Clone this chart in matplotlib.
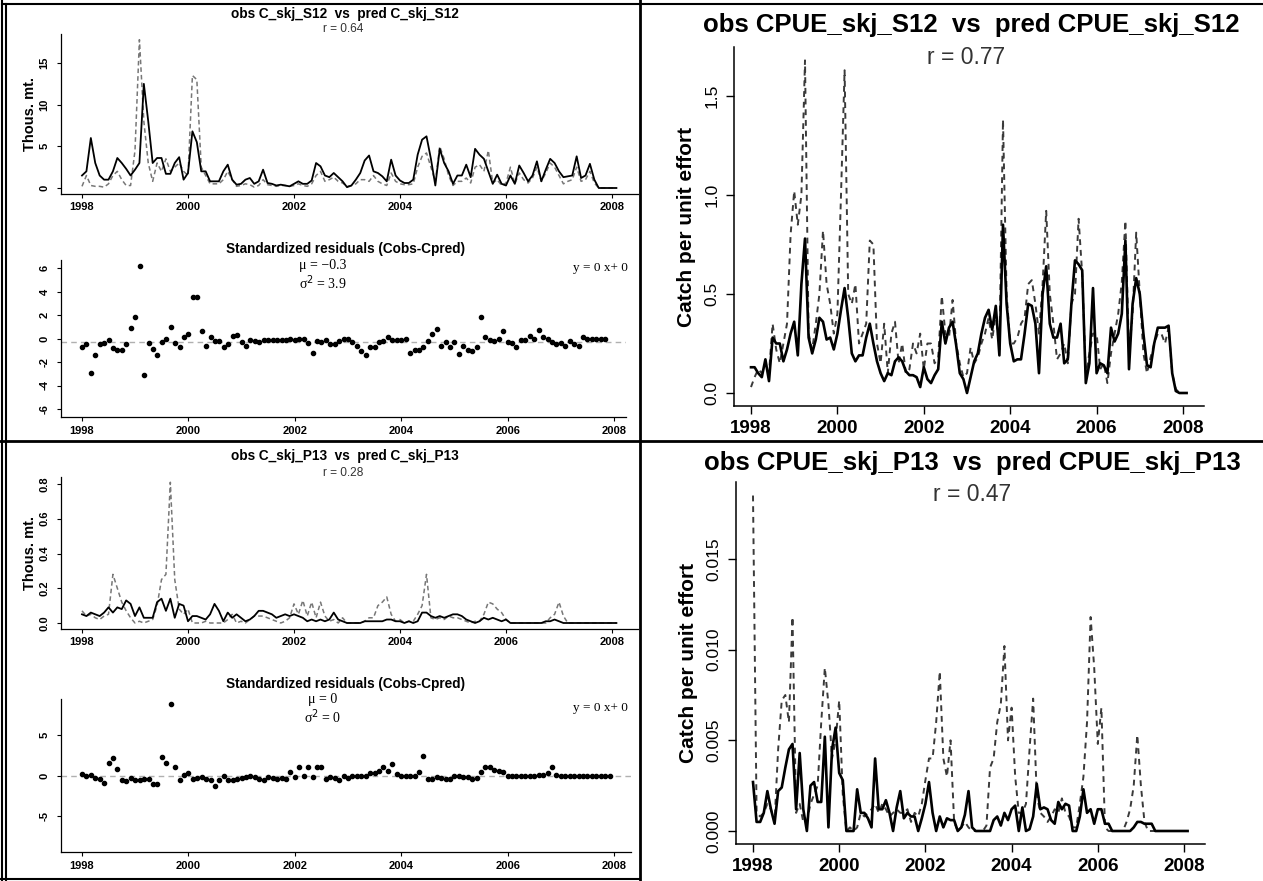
import numpy as np
import matplotlib
matplotlib.use("Agg")
import matplotlib.pyplot as plt
from matplotlib.lines import Line2D

plt.rcParams['font.family'] = ['Liberation Sans', 'DejaVu Sans']

W, H = 1263, 881

# ---------------- data (monthly, starting Jan 1998) ----------------
obs_c_s12 = [1.5, 2.0, 6.0, 3.0, 1.5, 1.0, 1.0, 2.0, 3.6, 3.0, 2.3, 1.5,
             2.2, 3.0, 12.5, 8.0, 3.0, 3.6, 3.6, 1.7, 1.7, 3.0, 3.7, 1.0,
             1.8, 6.8, 5.5, 2.0, 2.0, 0.8, 0.8, 0.8, 2.0, 2.8, 1.0, 0.4,
             0.5, 1.0, 1.2, 0.5, 0.8, 2.2, 0.6, 0.5, 0.3, 0.4, 0.3, 0.2,
             0.5, 0.8, 0.5, 0.5, 0.9, 3.0, 2.6, 1.5, 1.3, 1.8, 1.3, 0.8,
             0.1, 0.3, 1.0, 1.8, 3.3, 3.9, 2.0, 1.8, 1.4, 0.8, 3.4, 1.5,
             0.9, 0.6, 0.6, 1.0, 4.0, 5.8, 6.2, 3.5, 0.3, 4.7, 3.0, 2.0,
             0.5, 1.5, 1.5, 2.8, 1.3, 4.7, 4.0, 3.5, 2.0, 0.5, 1.6, 0.5,
             0.3, 1.5, 0.5, 2.7, 1.8, 0.8, 1.5, 3.2, 0.8, 2.2, 3.5, 3.0,
             2.0, 1.3, 1.4, 1.5, 3.8, 1.2, 1.5, 2.9, 1.0, 0.0, 0.0, 0.0,
             0.0, 0.0]
pred_c_s12 = [0.2, 1.5, 0.3, 0.2, 0.2, 0.1, 0.5, 1.5, 2.0, 1.0, 0.3, 0.3,
              4.5, 17.8, 8.0, 3.0, 0.8, 3.0, 2.0, 3.5, 2.0, 2.5, 3.0, 2.0,
              1.5, 13.5, 13.0, 2.5, 1.5, 0.5, 0.5, 0.5, 1.0, 2.0, 1.0, 0.2,
              0.3, 0.5, 0.4, 0.1, 0.3, 1.0, 0.4, 0.3, 0.2, 0.3, 0.3, 0.2,
              0.3, 0.5, 0.3, 0.2, 0.5, 1.5, 2.0, 0.8, 1.0, 1.3, 0.8, 0.6,
              0.2, 0.3, 0.5, 1.0, 1.0, 0.8, 1.5, 0.8, 0.5, 0.3, 1.8, 0.8,
              0.5, 0.4, 0.4, 0.5, 2.5, 3.8, 4.2, 2.5, 0.8, 5.0, 3.5, 1.5,
              0.3, 0.8, 0.8, 1.2, 0.6, 2.5, 2.8, 2.0, 4.5, 0.6, 1.0, 0.3,
              0.6, 2.5, 0.5, 1.8, 1.0, 0.6, 1.2, 2.5, 0.8, 1.8, 3.0, 2.5,
              1.5, 0.5, 0.8, 1.0, 2.5, 0.8, 1.0, 2.0, 0.6, 0.0, 0.0, 0.0,
              0.0, 0.0]
resid_c_s12 = [-0.7, -0.5, -2.9, -1.4, -0.5, -0.4, -0.1, -0.8, -1.0, -1.0, -0.5, 0.9,
               1.8, 6.2, -3.1, -0.4, -0.9, -1.4, -0.3, 0.0, 1.0, -0.4, -0.7, 0.1,
               0.4, 3.5, 3.5, 0.6, -0.6, 0.1, -0.2, -0.2, -0.7, -0.5, 0.2, 0.3,
               -0.3, -0.6, -0.1, -0.2, -0.3, -0.1, -0.1, -0.1, -0.1, -0.1, -0.1, 0.0,
               -0.1, 0.0, 0.0, -0.4, -1.2, -0.2, -0.3, -0.1, -0.5, -0.5, -0.2, 0.0,
               0.0, -0.3, -0.6, -1.1, -1.4, -0.7, -0.7, -0.3, -0.2, 0.1, -0.1, -0.1,
               -0.1, 0.0, -1.2, -1.0, -1.0, -0.7, -0.2, 0.4, 0.8, -0.6, -0.3, -0.7,
               -0.3, -1.3, -0.6, -1.0, -1.1, -0.7, 1.8, 0.1, -0.1, -0.2, 0.0, 0.6,
               -0.3, -0.4, -0.7, -0.1, -0.1, 0.2, 0.0, 0.7, 0.1, 0.0, -0.3, -0.5,
               -0.4, -0.6, -0.2, -0.5, -0.6, 0.1, 0.0, 0.0, 0.0, 0.0, 0.0]

obs_cpue_s12 = [0.13, 0.13, 0.10, 0.08, 0.17, 0.06, 0.28, 0.25, 0.25, 0.16, 0.22, 0.30,
                0.36, 0.19, 0.55, 0.78, 0.28, 0.20, 0.27, 0.38, 0.36, 0.27, 0.28, 0.22,
                0.30, 0.42, 0.53, 0.38, 0.20, 0.16, 0.19, 0.19, 0.28, 0.35, 0.25, 0.16,
                0.10, 0.06, 0.10, 0.09, 0.16, 0.18, 0.16, 0.11, 0.09, 0.09, 0.08, 0.03,
                0.13, 0.07, 0.05, 0.09, 0.12, 0.36, 0.25, 0.33, 0.36, 0.24, 0.10, 0.07,
                0.00, 0.08, 0.16, 0.20, 0.30, 0.38, 0.42, 0.32, 0.44, 0.19, 0.85, 0.45,
                0.25, 0.16, 0.17, 0.17, 0.30, 0.45, 0.44, 0.35, 0.10, 0.50, 0.64, 0.35,
                0.28, 0.28, 0.35, 0.15, 0.17, 0.45, 0.67, 0.65, 0.62, 0.05, 0.15, 0.53,
                0.10, 0.15, 0.14, 0.10, 0.33, 0.26, 0.30, 0.40, 0.77, 0.12, 0.45, 0.58,
                0.50, 0.30, 0.14, 0.13, 0.25, 0.33, 0.33, 0.33, 0.34, 0.10, 0.01, 0.00,
                0.00, 0.00]
pred_cpue_s12 = [0.03, 0.08, 0.12, 0.10, 0.15, 0.10, 0.35, 0.22, 0.15, 0.25, 0.35, 0.80,
                 1.02, 0.85, 1.00, 1.68, 0.30, 0.22, 0.35, 0.50, 0.82, 0.55, 0.45, 0.30,
                 0.40, 1.00, 1.63, 0.50, 0.45, 0.55, 0.25, 0.30, 0.35, 0.77, 0.75, 0.25,
                 0.15, 0.35, 0.10, 0.30, 0.36, 0.15, 0.25, 0.10, 0.12, 0.25, 0.20, 0.30,
                 0.12, 0.25, 0.25, 0.15, 0.18, 0.49, 0.30, 0.28, 0.47, 0.25, 0.15, 0.08,
                 0.10, 0.23, 0.15, 0.18, 0.25, 0.30, 0.38, 0.27, 0.40, 0.22, 1.38, 0.50,
                 0.25, 0.25, 0.28, 0.35, 0.38, 0.55, 0.57, 0.45, 0.30, 0.55, 0.92, 0.50,
                 0.35, 0.17, 0.20, 0.25, 0.15, 0.45, 0.50, 0.88, 0.60, 0.10, 0.20, 0.30,
                 0.30, 0.12, 0.15, 0.05, 0.20, 0.30, 0.40, 0.56, 0.87, 0.20, 0.40, 0.81,
                 0.50, 0.20, 0.10, 0.18, 0.25, 0.30, 0.30, 0.25, 0.33, 0.10, 0.02, 0.00,
                 0.00, 0.00]

obs_c_p13 = [0.05, 0.04, 0.06, 0.05, 0.04, 0.06, 0.09, 0.06, 0.09, 0.08, 0.13, 0.11,
             0.04, 0.09, 0.03, 0.03, 0.03, 0.12, 0.14, 0.07, 0.14, 0.03, 0.11, 0.10,
             0.01, 0.04, 0.04, 0.03, 0.02, 0.05, 0.11, 0.07, 0.01, 0.06, 0.03, 0.05,
             0.03, 0.01, 0.02, 0.04, 0.07, 0.07, 0.06, 0.05, 0.03, 0.04, 0.05, 0.04,
             0.05, 0.04, 0.03, 0.01, 0.02, 0.01, 0.02, 0.01, 0.02, 0.06, 0.02, 0.01,
             0.00, 0.00, 0.00, 0.00, 0.01, 0.01, 0.01, 0.01, 0.01, 0.02, 0.02, 0.01,
             0.01, 0.00, 0.01, 0.00, 0.01, 0.06, 0.06, 0.04, 0.03, 0.04, 0.03, 0.04,
             0.05, 0.05, 0.04, 0.02, 0.01, 0.00, 0.01, 0.03, 0.02, 0.03, 0.02, 0.01,
             0.02, 0.00, 0.00, 0.00, 0.00, 0.00, 0.00, 0.00, 0.00, 0.01, 0.01, 0.02,
             0.01, 0.00, 0.00, 0.00, 0.00, 0.00, 0.00, 0.00, 0.00, 0.00, 0.00, 0.00,
             0.00, 0.00]
pred_c_p13 = [0.07, 0.04, 0.05, 0.03, 0.02, 0.04, 0.05, 0.28, 0.20, 0.12, 0.07, 0.03,
              0.00, 0.01, 0.00, 0.01, 0.02, 0.10, 0.25, 0.28, 0.81, 0.25, 0.08, 0.05,
              0.08, 0.00, 0.00, 0.00, 0.01, 0.00, 0.00, 0.00, 0.00, 0.02, 0.05, 0.00,
              0.01, 0.00, 0.02, 0.04, 0.04, 0.04, 0.03, 0.02, 0.01, 0.00, 0.01, 0.03,
              0.11, 0.05, 0.13, 0.04, 0.12, 0.03, 0.12, 0.04, 0.01, 0.02, 0.00, 0.03,
              0.00, 0.00, 0.00, 0.00, 0.01, 0.03, 0.03, 0.10, 0.12, 0.15, 0.05, 0.01,
              0.02, 0.00, 0.01, 0.01, 0.05, 0.10, 0.28, 0.03, 0.02, 0.03, 0.02, 0.04,
              0.03, 0.03, 0.02, 0.01, 0.00, 0.01, 0.01, 0.05, 0.12, 0.11, 0.08, 0.06,
              0.02, 0.00, 0.00, 0.00, 0.00, 0.00, 0.00, 0.00, 0.00, 0.00, 0.03, 0.05,
              0.12, 0.04, 0.00, 0.00, 0.00, 0.00, 0.00, 0.00, 0.00, 0.00, 0.00, 0.00,
              0.00, 0.00]
resid_c_p13 = [0.2, -0.1, 0.1, -0.3, -0.4, -0.9, 1.5, 2.1, 0.8, -0.6, -0.7, -0.3,
               -0.6, -0.5, -0.4, -0.4, -1.0, -1.0, 2.3, 1.5, 8.8, 1.1, -0.6, 0.1,
               0.3, -0.4, -0.3, -0.2, -0.4, -0.6, -1.3, -0.6, -0.1, -0.5, -0.5, -0.4,
               -0.3, -0.2, -0.1, -0.2, -0.4, -0.6, -0.2, -0.3, -0.4, -0.3, -0.4, 0.4,
               -0.2, 1.0, 0.0, 1.1, -0.2, 1.0, 1.0, -0.4, -0.2, -0.3, -0.6, -0.1,
               -0.3, -0.1, 0.0, 0.0, 0.0, 0.3, 0.3, 0.5, 1.1, 0.5, 1.4, 0.2,
               -0.1, 0.0, -0.1, 0.0, 0.4, 2.4, -0.4, -0.4, -0.2, -0.3, -0.4, -0.4,
               -0.1, -0.1, -0.2, -0.2, -0.4, -0.3, 0.4, 1.1, 1.1, 0.7, 0.6, 0.4,
               0.0, 0.0, 0.0, 0.0, 0.0, 0.0, 0.0, 0.1, 0.1, 0.3, 1.1, 0.1,
               0.0, 0.0, 0.0, 0.0, 0.0, 0.0, 0.0, 0.0, 0.0, 0.0, 0.0, 0.0]

obs_cpue_p13 = [0.0027, 0.0005, 0.0005, 0.0010, 0.0022, 0.0012, 0.0004, 0.0022, 0.0024, 0.0035, 0.0045, 0.0048,
                0.0012, 0.0043, 0.0012, 0.0000, 0.0025, 0.0027, 0.0016, 0.0016, 0.0052, 0.0002, 0.0045, 0.0057,
                0.0032, 0.0028, 0.0000, 0.0000, 0.0000, 0.0023, 0.0010, 0.0010, 0.0007, 0.0002, 0.0040, 0.0012,
                0.0012, 0.0017, 0.0010, 0.0000, 0.0013, 0.0022, 0.0007, 0.0010, 0.0008, 0.0008, 0.0000, 0.0007,
                0.0015, 0.0027, 0.0010, 0.0000, 0.0008, 0.0002, 0.0007, 0.0006, 0.0006, 0.0000, 0.0002, 0.0009,
                0.0022, 0.0002, 0.0000, 0.0000, 0.0000, 0.0000, 0.0000, 0.0006, 0.0008, 0.0003, 0.0010, 0.0006,
                0.0012, 0.0014, 0.0000, 0.0013, 0.0000, 0.0001, 0.0008, 0.0026, 0.0012, 0.0013, 0.0012, 0.0006,
                0.0004, 0.0016, 0.0012, 0.0015, 0.0014, 0.0000, 0.0000, 0.0008, 0.0023, 0.0010, 0.0012, 0.0004,
                0.0012, 0.0012, 0.0004, 0.0004, 0.0000, 0.0000, 0.0000, 0.0000, 0.0000, 0.0000, 0.0002, 0.0005,
                0.0005, 0.0004, 0.0004, 0.0004, 0.0000, 0.0000, 0.0000, 0.0000, 0.0000, 0.0000, 0.0000, 0.0000,
                0.0000, 0.0000]
pred_cpue_p13 = [0.0185, 0.0010, 0.0008, 0.0010, 0.0015, 0.0012, 0.0005, 0.0045, 0.0072, 0.0075, 0.0060, 0.0118,
                 0.0010, 0.0015, 0.0005, 0.0005, 0.0015, 0.0020, 0.0025, 0.0060, 0.0090, 0.0070, 0.0040, 0.0050,
                 0.0072, 0.0020, 0.0000, 0.0002, 0.0000, 0.0002, 0.0010, 0.0008, 0.0010, 0.0012, 0.0015, 0.0010,
                 0.0015, 0.0012, 0.0008, 0.0010, 0.0012, 0.0010, 0.0010, 0.0012, 0.0005, 0.0010, 0.0008, 0.0015,
                 0.0028, 0.0040, 0.0040, 0.0060, 0.0088, 0.0040, 0.0030, 0.0050, 0.0005, 0.0000, 0.0002, 0.0005,
                 0.0002, 0.0000, 0.0000, 0.0000, 0.0000, 0.0003, 0.0035, 0.0040, 0.0060, 0.0070, 0.0102, 0.0050,
                 0.0068, 0.0030, 0.0010, 0.0010, 0.0015, 0.0045, 0.0073, 0.0020, 0.0010, 0.0008, 0.0005, 0.0008,
                 0.0012, 0.0010, 0.0018, 0.0010, 0.0008, 0.0002, 0.0002, 0.0015, 0.0030, 0.0060, 0.0118, 0.0090,
                 0.0048, 0.0068, 0.0002, 0.0000, 0.0000, 0.0000, 0.0000, 0.0000, 0.0005, 0.0012, 0.0025, 0.0053,
                 0.0025, 0.0005, 0.0000, 0.0000, 0.0000, 0.0000, 0.0000, 0.0000, 0.0000, 0.0000, 0.0000, 0.0000,
                 0.0000, 0.0000]

year_ticks = [1998, 2000, 2002, 2004, 2006, 2008]
ticks_c_s12 = [0, 5, 10, 15]
ticks_resid_s12 = [-6, -4, -2, 0, 2, 4, 6]
ticks_c_p13 = [0.0, 0.2, 0.4, 0.6, 0.8]
ticks_resid_p13 = [-5, 0, 5]
ticks_cpue_s12 = [0.0, 0.5, 1.0, 1.5]
ticks_cpue_p13 = [0.000, 0.005, 0.010, 0.015]

stats = {
    "c_s12": {"r": "0.64", "mu": "\u22120.3", "var": "3.9"},
    "c_p13": {"r": "0.28", "mu": "0", "var": "0"},
    "cpue_s12": {"r": "0.77"},
    "cpue_p13": {"r": "0.47"},
}
mu_line = {"c_s12": -0.3, "c_p13": 0.0}


def months(n):
    return 1998 + np.arange(n) / 12.0


def rlim(lo, hi):
    d = (hi - lo) * 0.04
    return lo - d, hi + d


fig = plt.figure(figsize=(W / 100, H / 100), dpi=100)
fig.patch.set_facecolor("white")


def place(xlim, ylim, xa, xb, ya, yb):
    """Create axes so that data values land on given pixel positions (top-left origin)."""
    sx = (xb[1] - xa[1]) / (xb[0] - xa[0])
    left = xa[1] + (xlim[0] - xa[0]) * sx
    right = xa[1] + (xlim[1] - xa[0]) * sx
    sy = (yb[1] - ya[1]) / (yb[0] - ya[0])
    top = ya[1] + (ylim[1] - ya[0]) * sy
    bottom = ya[1] + (ylim[0] - ya[0]) * sy
    ax = fig.add_axes([left / W, 1 - bottom / H, (right - left) / W, (bottom - top) / H])
    ax.set_xlim(*xlim)
    ax.set_ylim(*ylim)
    for s in ("top", "right"):
        ax.spines[s].set_visible(False)
    return ax


def fig_text(x, y, s, **kw):
    fig.text(x / W, 1 - y / H, s, ha="center", va="center", **kw)


def style_small(ax, yticks, ylabels):
    ax.set_xticks(year_ticks)
    ax.set_xticklabels([str(t) for t in year_ticks], fontsize=8, fontweight="bold")
    ax.set_yticks(yticks)
    ax.set_yticklabels(ylabels, fontsize=8, fontweight="bold", rotation=90, va="center")
    ax.tick_params(length=3, width=0.8, pad=3)
    ax.tick_params(axis="y", pad=5)
    for s in ("left", "bottom"):
        ax.spines[s].set_linewidth(0.9)


def style_big(ax, yticks, ylabels):
    ax.set_xticks(year_ticks)
    ax.set_xticklabels([str(t) for t in year_ticks], fontsize=13.5, fontweight="bold")
    ax.set_yticks(yticks)
    ax.set_yticklabels(ylabels, fontsize=12.5, rotation=90, va="center")
    ax.tick_params(length=6, width=1.0, pad=4)
    for s in ("left", "bottom"):
        ax.spines[s].set_linewidth(1.1)


def catch_panel(obs, pred, xa, xb, ya, yb):
    t = months(len(obs))
    xlim = rlim(t[0], t[-1])
    ylim = rlim(min(min(obs), min(pred)), max(max(obs), max(pred)))
    ax = place(xlim, ylim, xa, xb, ya, yb)
    ax.plot(t, pred, color="#777777", lw=1.1, ls=(0, (3, 2)))
    ax.plot(t, obs, color="black", lw=1.3)
    return ax


def resid_panel(res, mu, xa, xb, ya, yb):
    t = months(len(res))
    xlim = rlim(t[0], t[-1])
    m = max(abs(v) for v in res)
    ylim = rlim(-m, m)
    ax = place(xlim, ylim, xa, xb, ya, yb)
    ax.axhline(mu, color="#b0b0b0", lw=1.0, ls=(0, (4, 3)))
    ax.scatter(t, res, s=9, color="black", zorder=3)
    return ax


def cpue_panel(obs, pred, xa, xb, ya, yb):
    t = months(len(obs))
    xlim = rlim(t[0], t[-1])
    ylim = rlim(min(min(obs), min(pred)), max(max(obs), max(pred)))
    ax = place(xlim, ylim, xa, xb, ya, yb)
    ax.plot(t, pred, color="#3a3a3a", lw=1.4, ls=(0, (3, 2.5)))
    ax.plot(t, obs, color="black", lw=1.9)
    return ax


# ---- top-left: catch S12 ----
ax = catch_panel(obs_c_s12, pred_c_s12, (1998, 82), (2008, 612), (0, 188), (15, 63))
style_small(ax, ticks_c_s12, [str(v) for v in ticks_c_s12])
ax.set_ylabel("Thous. mt.", fontsize=10.5, fontweight="bold", labelpad=2)
fig_text(345, 14, "obs C_skj_S12  vs  pred C_skj_S12", fontsize=9.8, fontweight="bold")
fig_text(343, 29, "r = " + stats["c_s12"]["r"], fontsize=8.6, color="#333333")

# ---- top-left: residuals S12 ----
ax = resid_panel(resid_c_s12, mu_line["c_s12"], (1998, 82), (2008, 614), (6, 268), (-6, 409))
style_small(ax, ticks_resid_s12, [str(v) for v in ticks_resid_s12])
fig_text(346, 249, "Standardized residuals (Cobs-Cpred)", fontsize=9.8, fontweight="bold")
fig_text(323, 266, "μ = " + stats["c_s12"]["mu"], fontsize=10, family="Liberation Serif")
fig_text(323, 283, "σ$^2$ = " + stats["c_s12"]["var"], fontsize=10, family="Liberation Serif")
fig_text(600, 268, "y = 0 x+ 0", fontsize=9.5, family="Liberation Serif")

# ---- bottom-left: catch P13 ----
ax = catch_panel(obs_c_p13, pred_c_p13, (1998, 82), (2008, 612), (0.0, 623), (0.8, 484))
style_small(ax, ticks_c_p13, ["%.1f" % v for v in ticks_c_p13])
ax.set_ylabel("Thous. mt.", fontsize=10.5, fontweight="bold", labelpad=2)
fig_text(345, 456, "obs C_skj_P13  vs  pred C_skj_P13", fontsize=9.8, fontweight="bold")
fig_text(343, 473, "r = " + stats["c_p13"]["r"], fontsize=8.6, color="#333333")

# ---- bottom-left: residuals P13 ----
ax = resid_panel(resid_c_p13, mu_line["c_p13"], (1998, 82), (2008, 614), (5, 735), (-5, 816))
style_small(ax, ticks_resid_p13, [str(v) for v in ticks_resid_p13])
fig_text(346, 684, "Standardized residuals (Cobs-Cpred)", fontsize=9.8, fontweight="bold")
fig_text(323, 700, "μ = " + stats["c_p13"]["mu"], fontsize=10, family="Liberation Serif")
fig_text(323, 717, "σ$^2$ = " + stats["c_p13"]["var"], fontsize=10, family="Liberation Serif")
fig_text(600, 708, "y = 0 x+ 0", fontsize=9.5, family="Liberation Serif")

# ---- top-right: CPUE S12 ----
ax = cpue_panel(obs_cpue_s12, pred_cpue_s12, (1998, 751), (2008, 1183), (0.0, 393), (1.5, 96))
style_big(ax, ticks_cpue_s12, ["%.1f" % v for v in ticks_cpue_s12])
ax.set_ylabel("Catch per unit effort", fontsize=15, fontweight="bold", labelpad=6)
fig_text(971, 25, "obs CPUE_skj_S12  vs  pred CPUE_skj_S12", fontsize=18.5, fontweight="bold")
fig_text(966, 57, "r = " + stats["cpue_s12"]["r"], fontsize=16.5, color="#333333")

# ---- bottom-right: CPUE P13 ----
ax = cpue_panel(obs_cpue_p13, pred_cpue_p13, (1998, 753), (2008, 1184), (0.0, 831), (0.015, 559))
style_big(ax, ticks_cpue_p13, ["%.3f" % v for v in ticks_cpue_p13])
ax.set_ylabel("Catch per unit effort", fontsize=15, fontweight="bold", labelpad=6)
fig_text(972, 463, "obs CPUE_skj_P13  vs  pred CPUE_skj_P13", fontsize=18.5, fontweight="bold")
fig_text(972, 494, "r = " + stats["cpue_p13"]["r"], fontsize=16.5, color="#333333")

# ---- table frame lines around the panels ----
def frame_line(x0, y0, x1, y1, lw=1.5):
    fig.add_artist(Line2D([x0 / W, x1 / W], [1 - y0 / H, 1 - y1 / H],
                          transform=fig.transFigure, color="black", lw=lw))

frame_line(2, 0, 2, H)
frame_line(6, 4, 6, H)
frame_line(2, 4, W, 4)
frame_line(640, 0, 640, H, lw=2)
frame_line(0, 441, W, 441, lw=2)
frame_line(0, 879, 640, 879)

fig.savefig("out.png", dpi=100)
